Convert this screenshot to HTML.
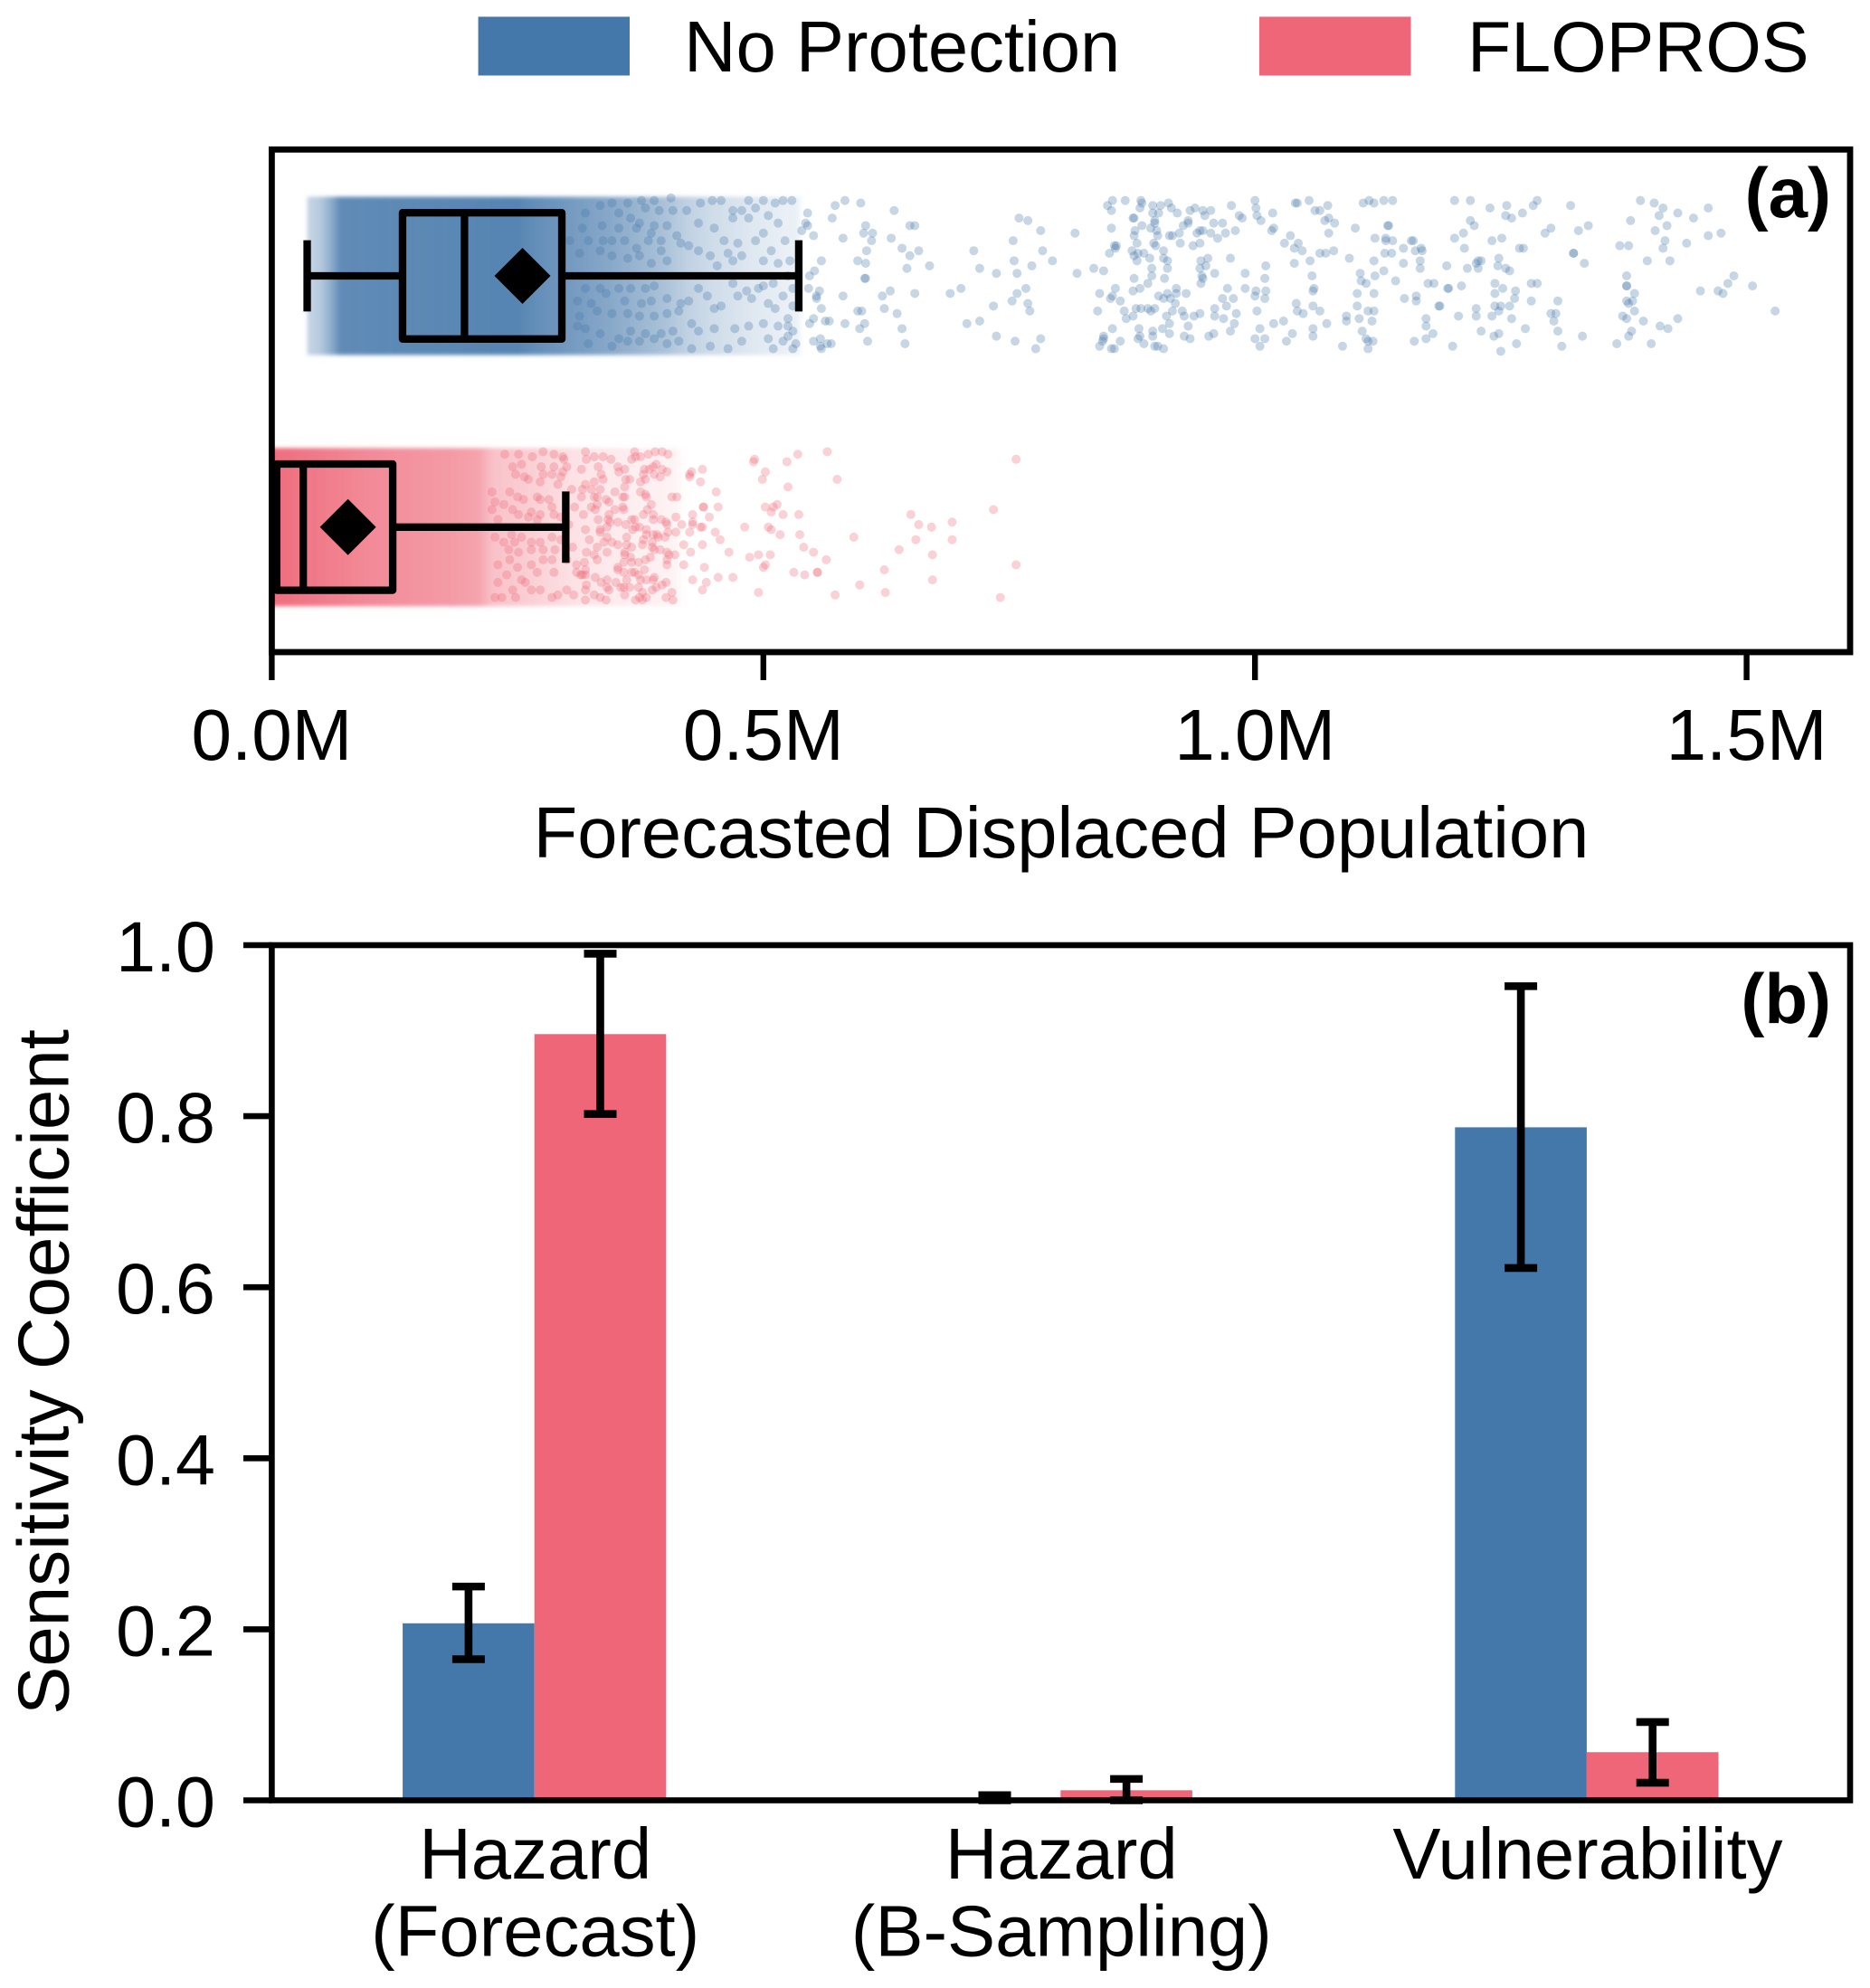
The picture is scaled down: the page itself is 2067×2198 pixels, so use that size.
<!DOCTYPE html>
<html lang="en">
<head>
<meta charset="utf-8">
<title>Forecasted displaced population and sensitivity coefficients</title>
<style>
html,body{margin:0;padding:0;background:#fff;}
svg{display:block;}
text{font-family:"Liberation Sans",Arial,sans-serif;fill:#000;}
</style>
</head>
<body>
<svg id="chart" xmlns="http://www.w3.org/2000/svg" width="2067" height="2198" viewBox="0 0 2067 2198">
  <rect x="0" y="0" width="2067" height="2198" fill="#fff"/>
  <g>
    <rect x="528.6" y="18.5" width="167.4" height="65" fill="#4477AA"/>
    <text x="756" y="79" font-size="79.6">No Protection</text>
    <rect x="1392" y="18.5" width="167.5" height="65" fill="#EE6677"/>
    <text x="1622" y="79" font-size="79">FLOPROS</text>
  </g>
  <defs>
    <clipPath id="clipA"><rect x="300.4" y="165.3" width="1744.6" height="555.7"/></clipPath>
    <filter id="softBand" x="-5%" y="-10%" width="110%" height="120%"><feGaussianBlur stdDeviation="2"/></filter>
  </defs>
  <g id="panelA"></g>
  <g id="panelB"></g>
  <text x="1173" y="948" font-size="79.5" text-anchor="middle">Forecasted Displaced Population</text>
  <text transform="translate(75.5,1517) rotate(-90)" font-size="79.9" text-anchor="middle">Sensitivity Coefficient</text>
  <text x="2024" y="240" font-size="78" font-weight="bold" text-anchor="end">(a)</text>
  <text x="2024" y="1131" font-size="78" font-weight="bold" text-anchor="end">(b)</text>
</svg>
<script>
// ---- Panel (a): axis ticks ----
const populationTickValues = [0, 0.5, 1.0, 1.5];
const populationTickLabels = ['0.0M', '0.5M', '1.0M', '1.5M'];

// ---- Panel (a): box statistics, in millions: [whisker low, q1, median, q3, whisker high, mean] ----
const noProtectionBoxStats = [0.036, 0.133, 0.196, 0.295, 0.536, 0.255];
const floprosBoxStats = [0.003, 0.005, 0.032, 0.123, 0.299, 0.0775];

// ---- Panel (a): estimated density of the over-plotted core of each strip ----
const noProtectionDensityEdges = [0.036, 0.05, 0.06, 0.07, 0.25, 0.265, 0.30, 0.34, 0.37, 0.40, 0.42, 0.45, 0.50, 0.535, 0.54];
const noProtectionDensity = [0.3, 0.4, 0.6, 0.85, 0.9, 0.84, 0.75, 0.65, 0.55, 0.45, 0.35, 0.25, 0.15, 0.1, 0];
const floprosDensityEdges = [0, 0.03, 0.09, 0.13, 0.18, 0.21, 0.225, 0.26, 0.3125, 0.36, 0.41, 0.42];
const floprosDensity = [0.95, 0.9, 0.78, 0.72, 0.66, 0.6, 0.4, 0.32, 0.18, 0.12, 0.08, 0];

// ---- Panel (a): individually readable points, [population in millions, strip jitter in category units] ----
const noProtectionPoints = [
[.334,-.28],[.346,-.29],[.362,-.29],[.376,-.30],[.389,-.30],[.406,-.31],[.380,-.27],[.394,-.26],[.408,-.26],[.353,-.25],[.365,-.23],[.374,-.21],[.389,-.20],[.402,-.20],[.412,-.16],[.336,-.20],[.353,-.19],[.371,-.19],[.386,-.17],[.346,-.14],[.337,-.14],[.359,-.14],[.371,-.11],[.383,-.14],[.396,-.14],[.416,-.13],[.402,-.06],[.386,-.05],[.396,-.10],[.334,-.10],[.346,-.08],[.362,-.07],[.374,-.08],[.319,-.25],[.316,-.19],[.322,-.14],[.313,-.09],[.303,-.14],[.319,.05],[.334,.05],[.353,.05],[.365,.05],[.380,.05],[.389,.04],[.311,.10],[.325,.11],[.340,.07],[.359,.10],[.376,.11],[.386,.10],[.402,.09],[.416,.11],[.313,.16],[.331,.14],[.346,.15],[.362,.15],[.374,.16],[.389,.16],[.402,.15],[.414,.14],[.319,.21],[.334,.23],[.353,.25],[.365,.22],[.380,.23],[.396,.23],[.408,.22],[.311,.20],[.322,.27],[.346,.28],[.362,.26],[.374,.26],[.389,.25],[.402,.27],[.414,.26],
[.436,-.29],[.448,-.30],[.457,-.30],[.469,-.26],[.485,-.30],[.422,-.26],[.478,-.26],[.492,-.27],[.434,-.21],[.450,-.19],[.469,-.23],[.485,-.23],[.460,-.14],[.474,-.13],[.492,-.14],[.424,-.12],[.434,-.10],[.446,-.08],[.464,-.09],[.478,-.08],[.453,-.04],[.469,-.06],[.434,.05],[.469,.03],[.483,.06],[.495,.05],[.443,.08],[.457,.12],[.474,.08],[.488,.09],[.427,.19],[.434,.22],[.450,.21],[.471,.21],[.485,.20],[.446,.28],[.464,.29],[.478,.26],[.427,.29],[.450,.13],[.424,.10],
[.50,-.30],[.512,-.29],[.52,-.30],[.505,-.24],[.515,-.21],[.50,-.17],[.522,-.14],[.508,-.10],[.527,-.06],[.50,-.06],[.515,-.05],[.525,.00],[.51,.03],[.53,.05],[.50,.04],[.52,.08],[.505,.11],[.53,.12],[.512,.13],[.525,.17],[.50,.19],[.515,.20],[.53,.22],[.505,.25],[.52,.26],[.51,.29],[.533,.27],
[.529,-.30],[.573,-.28],[.583,-.30],[.599,-.29],[.633,-.26],[.545,-.25],[.570,-.23],[.604,-.20],[.602,-.17],[.611,-.17],[.610,-.14],[.630,-.15],[.581,-.15],[.551,-.16],[.543,-.21],[.545,-.20],[.539,-.18],[.649,-.20],[.654,-.20],[.605,-.10],[.641,-.11],[.649,-.08],[.658,-.10],[.559,-.06],[.596,-.06],[.604,-.05],[.646,-.03],[.669,-.04],[.552,-.02],[.547,-.00],[.603,.01],[.604,.01],[.546,.05],[.557,.06],[.554,.08],[.554,.09],[.581,.08],[.629,.06],[.621,.08],[.654,.07],[.559,.13],[.596,.14],[.600,.14],[.623,.13],[.636,.15],[.551,.17],[.547,.19],[.563,.18],[.567,.18],[.583,.19],[.603,.19],[.598,.21],[.641,.21],[.525,.24],[.551,.26],[.558,.25],[.559,.29],[.558,.28],[.565,.27],[.569,.27],[.606,.26],[.644,.27],[.530,.29],[.525,.20],
[.760,-.23],[.769,-.22],[.782,-.18],[.817,-.17],[.754,-.14],[.714,-.10],[.784,-.10],[.755,-.06],[.794,-.06],[.720,-.03],[.773,-.04],[.737,-.01],[.758,-.01],[.836,-.03],[.846,-.02],[.819,-.01],[.701,.05],[.690,.07],[.767,.05],[.758,.07],[.753,.10],[.769,.11],[.734,.12],[.771,.14],[.720,.18],[.707,.19],[.737,.24],[.756,.26],[.782,.25],[.777,.29],[.850,-.28],[.855,-.30],[.868,-.30],[.854,-.26],[.854,-.19],[.859,-.12],[.857,-.12],[.858,-.11],[.852,-.09],[.858,.05],[.842,.07],[.855,.08],[.853,.09],[.863,.10],[.840,.14],[.867,.14],[.869,.17],[.855,.21],[.846,.24],[.846,.25],[.845,.26],[.842,.28],[.863,.26],[.857,.29],[.854,.29],
[.884,-.30],[.885,-.29],[.883,-.27],[.896,-.28],[.904,-.28],[.912,-.29],[.915,-.27],[.896,-.25],[.902,-.25],[.921,-.25],[.876,-.23],[.877,-.23],[.898,-.22],[.898,-.21],[.885,-.20],[.878,-.18],[.894,-.19],[.900,-.18],[.901,-.16],[.877,-.16],[.913,-.16],[.916,-.16],[.923,-.17],[.924,-.13],[.880,-.13],[.897,-.13],[.899,-.12],[.907,-.10],[.887,-.09],[.881,-.09],[.877,-.08],[.875,-.10],[.880,-.06],[.893,-.07],[.907,-.07],[.911,-.06],[.911,-.03],[.895,-.03],[.895,-.00],[.908,.01],[.877,.01],[.891,.03],[.876,.06],[.883,.05],[.920,.05],[.920,.07],[.911,.07],[.914,.09],[.902,.08],[.907,.09],[.930,.07],[.919,.11],[.891,.13],[.898,.13],[.879,.13],[.884,.13],[.894,.14],[.876,.16],[.916,.14],[.910,.16],[.926,.14],[.928,.16],[.938,.16],[.944,.15],[.913,.19],[.906,.21],[.882,.21],[.883,.24],[.881,.25],[.896,.22],[.896,.24],[.913,.23],[.932,.20],[.928,.24],[.934,.25],[.887,.27],[.898,.28],[.901,.28],[.907,.29],
[.934,-.26],[.939,-.27],[.947,-.26],[.949,-.24],[.955,-.26],[.932,-.22],[.927,-.20],[.932,-.21],[.958,-.21],[.967,-.21],[.980,-.18],[.970,-.17],[.947,-.18],[.944,-.18],[.941,-.17],[.955,-.17],[.962,-.15],[.937,-.12],[.944,-.13],[.976,-.28],[.984,-.24],[.987,-.23],[1.000,-.30],[1.001,-.27],[1.002,-.24],[1.006,-.22],[1.018,-.25],[1.019,-.19],[1.017,-.18],[1.036,-.16],[1.030,-.13],[1.044,-.13],[1.040,-.11],[1.048,-.10],[1.066,-.09],[1.072,-.09],[1.080,-.10],[1.040,-.05],[1.056,-.06],[1.096,-.07],[1.011,-.04],[.990,-.01],[1.010,.01],[.975,-.07],[.952,-.07],[.945,-.06],[.950,-.04],[.944,-.03],[.946,-.00],[.947,.01],[.945,.03],[.959,-.01],[.972,.05],[.990,.05],[1.001,.06],[1.011,.06],[1.000,.08],[1.010,.09],[.967,.09],[.978,.09],[.971,.12],[1.002,.14],[.959,.13],[.959,.16],[.968,.17],[.981,.15],[.979,.19],[.975,.22],[.953,.24],[.958,.23],[1.005,.21],[1.019,.19],[1.029,.18],[1.010,.25],[1.000,.25],[1.005,.28],[1.032,.26],[1.038,.23],[1.059,.21],[1.059,.24],[1.073,.19],[1.042,.11],[1.043,.14],[1.049,.15],[1.059,.12],[1.066,.14],[1.058,-.00],[1.060,.05],[1.059,.06],
[1.041,-.29],[1.043,-.29],[1.055,-.30],[1.061,-.26],[1.066,-.26],[1.074,-.28],[1.075,-.23],[1.071,-.22],[1.081,-.21],[1.075,-.17],[1.102,-.19],[1.110,-.29],[1.116,-.30],[1.121,-.29],[1.131,-.30],[1.140,-.30],[1.135,-.20],[1.136,-.20],[1.122,-.15],[1.133,-.15],[1.133,-.14],[1.140,-.14],[1.159,-.14],[1.161,-.14],[1.151,-.11],[1.163,-.10],[1.169,-.11],[1.170,-.10],[1.132,-.09],[1.139,-.09],[1.121,-.06],[1.151,-.05],[1.168,-.06],[1.168,-.03],[1.131,-.02],[1.107,-.01],[1.122,.00],[1.143,.02],[1.108,.02],[1.113,.03],[1.176,.03],[1.182,.03],[1.196,.05],[1.197,.05],[1.210,.04],[1.104,.07],[1.121,.07],[1.152,.09],[1.164,.08],[1.164,.10],[1.104,.12],[1.187,.12],[1.188,.12],[1.115,.14],[1.121,.14],[1.093,.16],[1.093,.18],[1.106,.17],[1.119,.18],[1.174,.17],[1.174,.20],[1.207,.16],[1.225,.13],[1.225,.16],[1.181,.23],[1.174,.25],[1.162,.26],[1.109,.22],[1.113,.25],[1.115,.26],[1.120,.26],[1.115,.29],[1.089,.28],[1.201,.28],[1.230,.22],[1.203,-.30],[1.219,-.30],[1.219,-.22],[1.223,-.20],[1.212,-.17],[1.203,-.15],[1.213,-.11],[1.195,-.04],[1.216,-.03],[1.225,-.05],[1.227,-.06],[1.230,-.06],[1.227,-.03],[1.239,-.27],[1.241,-.14],
[1.256,-.28],[1.255,-.24],[1.261,-.23],[1.272,-.25],[1.283,-.28],[1.287,-.30],[1.321,-.28],[1.251,-.15],[1.269,-.11],[1.273,-.11],[1.295,-.17],[1.301,-.19],[1.329,-.18],[1.339,-.20],[1.324,-.09],[1.324,-.09],[1.335,-.05],[1.248,-.07],[1.247,-.04],[1.255,-.03],[1.259,-.02],[1.244,.03],[1.252,.05],[1.244,.07],[1.265,.06],[1.281,.03],[1.287,.03],[1.264,.09],[1.281,.10],[1.308,.10],[1.259,.12],[1.244,.12],[1.250,.12],[1.248,.14],[1.241,.16],[1.261,.17],[1.301,.15],[1.306,.15],[1.304,.18],[1.275,.21],[1.308,.22],[1.243,.24],[1.248,.23],[1.333,.24],[1.266,.27],[1.312,.28],[1.250,.30],[1.392,-.30],[1.406,-.29],[1.415,-.27],[1.430,-.25],[1.446,-.23],[1.461,-.27],[1.411,-.24],[1.382,-.22],[1.419,-.20],[1.407,-.18],[1.461,-.16],[1.474,-.17],[1.417,-.14],[1.439,-.13],[1.371,-.12],[1.380,-.12],[1.415,-.11],[1.399,-.06],[1.422,-.06],[1.487,-.00],[1.481,.03],[1.378,.00],[1.378,.04],[1.378,.04],[1.386,.07],[1.453,.06],[1.471,.06],[1.476,.07],[1.506,.04],[1.378,.10],[1.384,.10],[1.380,.11],[1.386,.14],[1.529,.14],[1.374,.16],[1.378,.17],[1.395,.18],[1.412,.20],[1.420,.21],[1.430,.17],[1.383,.22],[1.380,.24],[1.368,.27],[1.403,.27]
];
const floprosPoints = [
[.237,-.29],[.251,-.29],[.265,-.28],[.276,-.30],[.287,-.29],[.296,-.28],[.297,-.27],[.245,-.24],[.254,-.25],[.274,-.24],[.287,-.24],[.296,-.22],[.248,-.21],[.257,-.20],[.276,-.21],[.285,-.21],[.294,-.20],[.261,-.19],[.273,-.18],[.291,-.17],[.224,-.14],[.242,-.14],[.250,-.12],[.270,-.12],[.273,-.11],[.282,-.11],[.227,-.10],[.236,-.09],[.256,-.11],[.285,-.08],[.245,-.07],[.251,-.05],[.264,-.06],[.273,-.05],[.287,-.05],[.294,-.04],[.224,-.07],[.230,-.03],[.261,-.04],[.270,-.03],[.244,.03],[.254,.04],[.264,.06],[.273,.06],[.285,.04],[.294,.05],[.227,.04],[.236,.06],[.247,.06],[.241,.09],[.251,.10],[.264,.09],[.276,.09],[.288,.09],[.242,.13],[.230,.15],[.250,.16],[.264,.15],[.276,.13],[.285,.13],[.270,.18],[.287,.18],[.310,.18],[.314,.19],[.239,.19],[.254,.21],[.230,.22],[.245,.25],[.234,.28],[.248,.28],[.264,.25],[.273,.25],[.285,.28],[.291,.27],[.300,.25],[.307,.27],[.258,.22],[.227,.28],[.310,.15],[.30,-.24],[.305,-.15],[.308,-.08],[.302,-.01],[.306,.08],[.300,.13],
[.319,-.30],[.369,-.30],[.390,-.30],[.397,-.30],[.403,-.29],[.383,-.29],[.375,-.28],[.370,-.28],[.366,-.27],[.337,-.28],[.345,-.27],[.328,-.28],[.320,-.27],[.332,-.24],[.352,-.24],[.359,-.23],[.353,-.22],[.335,-.21],[.315,-.23],[.391,-.25],[.388,-.24],[.384,-.23],[.379,-.23],[.397,-.23],[.402,-.22],[.389,-.21],[.395,-.20],[.378,-.21],[.380,-.19],[.375,-.18],[.360,-.19],[.364,-.19],[.337,-.19],[.328,-.18],[.319,-.17],[.325,-.15],[.334,-.15],[.349,-.14],[.359,-.16],[.316,-.15],[.375,-.14],[.380,-.13],[.381,-.12],[.357,-.12],[.359,-.12],[.340,-.11],[.343,-.10],[.331,-.12],[.328,-.12],[.315,-.12],[.331,-.09],[.325,-.08],[.329,-.07],[.349,-.07],[.358,-.07],[.357,-.08],[.382,-.07],[.386,-.09],[.378,-.05],[.388,-.05],[.317,-.05],[.332,-.03],[.343,-.05],[.342,-.03],[.344,-.02],[.352,-.02],[.360,-.01],[.366,-.03],[.369,-.03],[.374,-.00],[.370,.00],[.367,.01],[.388,-.03],[.396,-.03],[.401,-.02],[.402,-.01],[.411,-.04],[.417,-.01],[.319,.01],[.334,.01],[.334,.02],[.341,.00],[.381,.01],[.381,.03],[.392,.03],[.393,.04],[.400,.04],[.403,.02],[.411,.02],[.388,.03],[.361,.04],[.341,.04],[.338,.06],[.346,.06],[.323,.05],[.352,.07],[.361,.07],[.366,.08],[.377,.07],[.378,.05],[.387,.06],[.387,.08],[.389,.09],[.395,.09],[.402,.10],[.404,.11],[.410,.11],[.402,.13],[.402,.15],[.419,.15],[.331,.08],[.320,.10],[.341,.10],[.328,.11],[.331,.13],[.359,.10],[.359,.11],[.365,.12],[.380,.13],[.385,.12],[.366,.14],[.373,.14],[.358,.14],[.352,.16],[.352,.17],[.358,.18],[.366,.18],[.369,.18],[.373,.19],[.379,.17],[.318,.14],[.319,.17],[.316,.19],[.319,.19],[.329,.20],[.335,.22],[.341,.21],[.350,.22],[.361,.21],[.375,.21],[.381,.21],[.389,.20],[.388,.21],[.397,.23],[.401,.22],[.341,.24],[.343,.25],[.320,.23],[.319,.25],[.355,.24],[.358,.24],[.364,.24],[.373,.24],[.377,.26],[.387,.25],[.391,.24],[.328,.27],[.334,.28],[.340,.29],[.359,.27],[.319,.29],[.370,.29],[.374,.28],[.377,.29],[.381,.28],[.401,.28],[.407,.26],[.408,.29],
[.425,-.21],[.427,-.22],[.425,-.20],[.438,-.23],[.436,-.18],[.452,-.14],[.407,-.12],[.412,-.12],[.439,-.08],[.439,-.08],[.454,-.08],[.428,-.05],[.445,-.04],[.428,-.02],[.428,-.01],[.438,-.00],[.436,.00],[.425,.02],[.451,.02],[.456,.05],[.419,.07],[.426,.10],[.438,.07],[.465,.10],[.440,.16],[.454,.20],[.469,.20],[.428,.21],[.442,.22],[.438,.25],[.491,-.27],[.490,-.26],[.502,-.22],[.499,-.19],[.524,-.26],[.535,-.29],[.565,-.30],[.525,-.16],[.575,-.19],[.502,-.08],[.514,-.09],[.510,-.08],[.508,-.06],[.520,-.05],[.536,-.05],[.481,-.00],[.505,.00],[.508,.01],[.517,.03],[.537,.03],[.592,.04],[.541,.08],[.551,.10],[.564,.13],[.486,.12],[.495,.11],[.507,.11],[.502,.15],[.500,.16],[.531,.18],[.542,.19],[.555,.18],[.555,.18],[.495,.26],[.573,.27],[.598,.23],[.624,.26],[.623,.17],[.638,.09],[.650,-.05],[.658,-.01],[.671,.00],[.692,-.02],[.655,.05],[.692,.05],[.672,.11],[.672,.21],[.734,-.07],[.757,-.27],[.757,.15],[.741,.28]
];

// ---- Panel (b): data ----
const factorCategories = [['Hazard', '(Forecast)'], ['Hazard', '(B-Sampling)'], ['Vulnerability']];
const noProtectionSensitivity = [0.207, 0.002, 0.787];
const noProtectionErrorLow = [0.165, 0, 0.6225];
const noProtectionErrorHigh = [0.25, 0.006, 0.952];
const floprosSensitivity = [0.896, 0.0118, 0.0563];
const floprosErrorLow = [0.8025, 0, 0.0206];
const floprosErrorHigh = [0.99, 0.025, 0.0915];
const sensitivityTickValues = [0, 0.2, 0.4, 0.6, 0.8, 1.0];
const sensitivityTickLabels = ['0.0', '0.2', '0.4', '0.6', '0.8', '1.0'];

const BLUE = '#4477AA';
const RED = '#EE6677';
const NS = 'http://www.w3.org/2000/svg';

function mk(parent, tag, attrs, text) {
  const el = document.createElementNS(NS, tag);
  for (const k in attrs) el.setAttribute(k, attrs[k]);
  if (text !== undefined) el.textContent = text;
  parent.appendChild(el);
  return el;
}

// axis functions
function xPopulation(v) { return 300.4 + 1086.8 * v; }
function yStrip(cat) { return 305 + 277.8 * cat; }
function yStripPx(cat, jitter) { return yStrip(cat + jitter); }
function ySensitivity(v) { return 1990.5 - 945.5 * v; }
function xFactor(i) { return 590.7 + 581.6 * i; }
const BAR_WIDTH = 145.6;

// ---------- panel a ----------
const panelA = document.getElementById('panelA');
const defs = document.querySelector('#chart defs');
const stripLayer = mk(panelA, 'g', {'clip-path': 'url(#clipA)'});



function drawDensity(edges, density, cat, color, id, name) {
  const x0 = xPopulation(edges[0]);
  const x1 = xPopulation(edges[edges.length - 1]);
  const grad = mk(defs, 'linearGradient', {id: id, gradientUnits: 'userSpaceOnUse', x1: x0, x2: x1, y1: 0, y2: 0});
  density.forEach(function (d, i) {
    mk(grad, 'stop', {
      offset: (xPopulation(edges[i]) - x0) / (x1 - x0),
      'stop-color': color,
      'stop-opacity': d
    });
  });
  const r = mk(stripLayer, 'rect', {
    x: x0 - (edges[0] === 0 ? 12 : 0),
    y: yStripPx(cat, -0.315),
    width: x1 - x0 + (edges[0] === 0 ? 12 : 0),
    height: yStripPx(cat, 0.315) - yStripPx(cat, -0.315),
    fill: 'url(#' + id + ')',
    filter: 'url(#softBand)'
  });
  
  
}
function drawPoints(points, cat, color, name) {
  points.forEach(function (p) {
    const c = mk(stripLayer, 'circle', {
      cx: xPopulation(p[0]),
      cy: yStripPx(cat, p[1]),
      r: 5,
      fill: color,
      'fill-opacity': 0.3
    });
    
    
  });
}
drawDensity(noProtectionDensityEdges, noProtectionDensity, 0, BLUE, 'gradBlue', 'no-protection-density-band');
drawDensity(floprosDensityEdges, floprosDensity, 1, RED, 'gradRed', 'flopros-density-band');
drawPoints(noProtectionPoints, 0, BLUE, 'no-protection-point');
drawPoints(floprosPoints, 1, RED, 'flopros-point');

function drawBox(stats, cat, name) {
  const g = mk(panelA, 'g', {stroke: '#000', 'stroke-width': 8.3, fill: 'none'});
  
  
  const cy = yStrip(cat), boxH = 69.8, capH = 39.4;
  const wl = xPopulation(stats[0]), q1 = xPopulation(stats[1]), med = xPopulation(stats[2]),
        q3 = xPopulation(stats[3]), wh = xPopulation(stats[4]), mean = xPopulation(stats[5]);
  mk(g, 'line', {x1: wl, x2: q1, y1: cy, y2: cy});
  mk(g, 'line', {x1: q3, x2: wh, y1: cy, y2: cy});
  mk(g, 'line', {x1: wl, x2: wl, y1: cy - capH, y2: cy + capH});
  mk(g, 'line', {x1: wh, x2: wh, y1: cy - capH, y2: cy + capH});
  mk(g, 'rect', {x: q1, y: cy - boxH, width: q3 - q1, height: 2 * boxH, 'stroke-linejoin': 'round'});
  mk(g, 'line', {x1: med, x2: med, y1: cy - boxH, y2: cy + boxH});
  const d = 31;
  mk(g, 'polygon', {
    points: (mean - d) + ',' + cy + ' ' + mean + ',' + (cy - d) + ' ' + (mean + d) + ',' + cy + ' ' + mean + ',' + (cy + d),
    fill: '#000', stroke: 'none'
  });
}
drawBox(noProtectionBoxStats, 0, 'no-protection-box');
drawBox(floprosBoxStats, 1, 'flopros-box');

const frameA = mk(panelA, 'rect', {x: 300.4, y: 165.3, width: 1744.6, height: 555.7, fill: 'none', stroke: '#000', 'stroke-width': 6.8});



populationTickValues.forEach(function (v, i) {
  const x = xPopulation(v);
  const t = mk(panelA, 'line', {x1: x, x2: x, y1: 721, y2: 752, stroke: '#000', 'stroke-width': 6.4});
  
  
  const l = mk(panelA, 'text', {x: x, y: 840, 'font-size': 80, 'text-anchor': 'middle'}, populationTickLabels[i]);
  
  
});

// ---------- panel b ----------
const panelB = document.getElementById('panelB');
function drawBar(i, val, offset, color, name) {
  const r = mk(panelB, 'rect', {
    x: xFactor(i) + offset,
    y: ySensitivity(val),
    width: BAR_WIDTH,
    height: ySensitivity(0) - ySensitivity(val),
    fill: color
  });
  
  
}
function drawError(i, lo, hi, offset, name) {
  const x = xFactor(i) + offset;
  const g = mk(panelB, 'g', {stroke: '#000', fill: 'none'});
  
  
  mk(g, 'line', {x1: x, x2: x, y1: ySensitivity(lo), y2: ySensitivity(hi), 'stroke-width': 8.6});
  mk(g, 'line', {x1: x - 18, x2: x + 18, y1: ySensitivity(lo), y2: ySensitivity(lo), 'stroke-width': 8.6});
  mk(g, 'line', {x1: x - 18, x2: x + 18, y1: ySensitivity(hi), y2: ySensitivity(hi), 'stroke-width': 8.6});
}
factorCategories.forEach(function (lines, i) {
  drawBar(i, noProtectionSensitivity[i], -BAR_WIDTH, BLUE, 'no-protection-bar');
  drawBar(i, floprosSensitivity[i], 0, RED, 'flopros-bar');
});
factorCategories.forEach(function (lines, i) {
  drawError(i, noProtectionErrorLow[i], noProtectionErrorHigh[i], -BAR_WIDTH / 2, 'no-protection-error-bar');
  drawError(i, floprosErrorLow[i], floprosErrorHigh[i], BAR_WIDTH / 2, 'flopros-error-bar');
  lines.forEach(function (line, k) {
    const l = mk(panelB, 'text', {x: xFactor(i) + 1, y: 2077 + 85.5 * k, 'font-size': 79.7, 'text-anchor': 'middle'}, line);
    
    
  });
});
const frameB = mk(panelB, 'rect', {x: 300.4, y: ySensitivity(1), width: 1744.6, height: ySensitivity(0) - ySensitivity(1), fill: 'none', stroke: '#000', 'stroke-width': 6.6});


sensitivityTickValues.forEach(function (v, i) {
  const y = ySensitivity(v);
  const t = mk(panelB, 'line', {x1: 269, x2: 300.4, y1: y, y2: y, stroke: '#000', 'stroke-width': 6.6});
  
  
  const l = mk(panelB, 'text', {x: 238, y: y + 29, 'font-size': 79, 'text-anchor': 'end'}, sensitivityTickLabels[i]);
  
  
});
</script>
</body>
</html>
